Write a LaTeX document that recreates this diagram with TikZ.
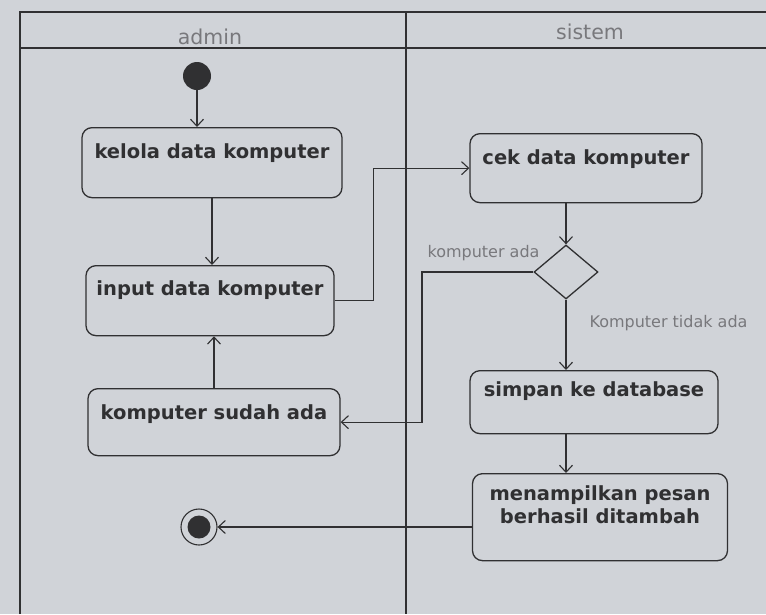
\documentclass[tikz,border=0pt]{standalone}
\usepackage{fontspec}
\setmainfont{DejaVu Sans}
\usetikzlibrary{shapes.geometric,arrows.meta,calc}
\definecolor{bgc}{RGB}{208,211,216}
\definecolor{ink}{RGB}{48,48,50}
\definecolor{soft}{RGB}{120,120,124}
\tikzset{
  act/.style={draw=ink, line width=1.3pt, rounded corners=10pt, inner xsep=4pt, inner ysep=0pt,
    anchor=north, font=\fontsize{19.5}{23}\selectfont\bfseries, text=ink, align=center},
  flow/.style={draw=ink, line width=1.1pt, -{Straight Barb[length=7pt,width=13pt,line width=1.1pt]}},
  lane/.style={draw=ink, line width=1.6pt},
  guard/.style={font=\fontsize{16}{18}\selectfont, text=soft},
  head/.style={font=\fontsize{20.5}{24}\selectfont, text=soft},
}
\begin{document}
\begin{tikzpicture}[x=1pt,y=-1pt]
\fill[bgc] (0,0) rectangle (766,614);
\useasboundingbox (0,0) rectangle (766,614);
% swimlanes
\draw[lane] (20,614) -- (20,12) -- (766,12);
\draw[lane] (20,48) -- (766,48);
\draw[lane] (406,12) -- (406,614);
\node[head] (hadmin) at (210,37) {admin};
\node[head] (hsistem) at (590,32) {sistem};
% start
\node[circle, fill=ink, minimum size=28pt, inner sep=0pt] (start) at (197,76) {};
% activities
\node[act, minimum width=260pt, text height=31pt, text depth=39pt] (kelola) at (212,127) {kelola data komputer};
\node[act, minimum width=248pt, text height=30pt, text depth=40pt] (input) at (210,265) {input data komputer};
\node[act, minimum width=252pt, text height=31pt, text depth=36pt] (sudah) at (214,388) {komputer sudah ada};
\node[act, minimum width=232pt, text height=31pt, text depth=38pt] (cek) at (586,133) {cek data komputer};
\node[act, minimum width=248pt, text height=26pt, text depth=37pt] (simpan) at (594,370) {simpan ke database};
\node[act, minimum width=255pt, text height=50pt, text depth=37pt] (tampil) at (600,473) {menampilkan pesan\\berhasil ditambah};
% decision
\node[diamond, draw=ink, line width=1.3pt, minimum width=64pt, minimum height=54pt, inner sep=0pt] (dec) at (566,272) {};
% final
\node[circle, draw=ink, line width=1.1pt, minimum size=36pt, inner sep=0pt] (final) at (199,527) {};
\fill[ink] (final.center) circle (11.5pt);
% flows
\draw[flow] (start.south) -- (start.south |- kelola.north);
\draw[flow] (kelola.south) -- (kelola.south |- input.north);
\draw[flow] (sudah.north) -- (sudah.north |- input.south);
\draw[flow] (input.east) -- ++(39,0) |- (cek.west);
\draw[flow] (dec.north |- cek.south) -- (dec.north);
\draw[flow] (dec.west) -- (422,272) |- (sudah.east);
\draw[flow] (dec.south) -- (dec.south |- simpan.north);
\draw[flow] (dec.south |- simpan.south) -- (dec.south |- tampil.north);
\draw[flow] (final -| tampil.west) -- (final.east);
% guards
\node[guard, anchor=south east] (g1) at (543,264) {komputer ada};
\node[guard, anchor=west] (g2) at (586,323) {Komputer tidak ada};
\end{tikzpicture}
\end{document}
